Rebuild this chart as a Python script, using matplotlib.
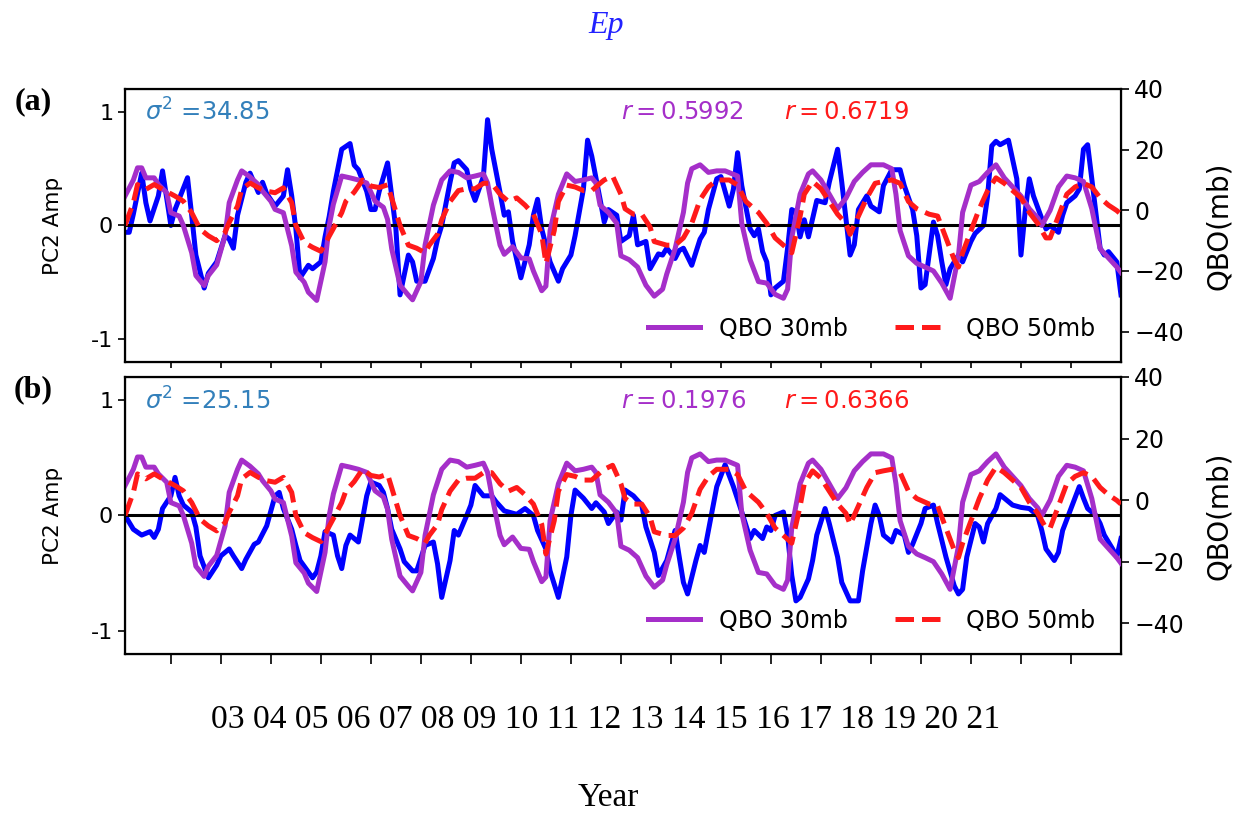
import matplotlib.pyplot as plt

# monthly index, 0 = Jan 2002
m_pc2a = [0, 1, 2, 4, 5, 6, 8, 9, 11, 12, 15, 16, 17, 19, 20, 22, 24, 25, 26, 27, 29, 30, 32, 33, 34, 36, 38, 39,
          40, 41, 42, 44, 45, 47, 48, 49, 50, 52, 54, 55, 56, 58, 59, 60, 61, 63, 64, 65, 66, 68, 69, 70, 72, 74,
          75, 76, 78, 79, 80, 82, 83, 84, 86, 87, 88, 90, 91, 92, 93, 95, 97, 98, 99, 100, 102, 104, 105, 107, 108,
          110, 111, 112, 114, 115, 116, 118, 119, 121, 122, 123, 125, 126, 128, 129, 130, 132, 133, 134, 136, 138,
          139, 140, 142, 143, 145, 146, 147, 148, 150, 151, 152, 153, 154, 155, 156, 158, 159, 160, 161, 162, 163,
          164, 166, 168, 169, 171, 172, 174, 175, 176, 178, 179, 181, 182, 184, 186, 187, 189, 190, 191, 192, 194,
          195, 196, 197, 198, 200, 201, 203, 204, 206, 207, 208, 209, 210, 212, 214, 215, 216, 217, 218, 220, 221,
          222, 224, 225, 226, 228, 229, 230, 231, 232, 234, 235, 236, 238, 239]
pc2_a = [-0.06, -0.06, 0.1, 0.46, 0.2, 0.04, 0.26, 0.48, 0.0, 0.14, 0.42, 0.09, -0.26, -0.55, -0.42, -0.32, -0.09,
         -0.12, -0.2, 0.09, 0.38, 0.46, 0.29, 0.38, 0.28, 0.17, 0.26, 0.49, 0.26, -0.03, -0.46, -0.35, -0.38, -0.32,
         -0.1, 0.08, 0.3, 0.67, 0.72, 0.53, 0.49, 0.3, 0.14, 0.14, 0.3, 0.55, 0.26, -0.03, -0.61, -0.26, -0.32,
         -0.49, -0.49, -0.29, -0.12, 0.0, 0.38, 0.55, 0.57, 0.49, 0.32, 0.22, 0.43, 0.93, 0.67, 0.29, 0.09, 0.12,
         -0.14, -0.46, -0.17, 0.09, 0.23, -0.03, -0.32, -0.49, -0.38, -0.26, -0.09, 0.32, 0.75, 0.61, 0.23, 0.03,
         0.14, 0.09, -0.14, -0.09, 0.09, -0.17, -0.14, -0.38, -0.25, -0.26, -0.2, -0.29, -0.22, -0.2, -0.35, -0.12,
         -0.06, 0.14, 0.41, 0.43, 0.17, 0.32, 0.64, 0.35, -0.03, -0.09, -0.03, -0.23, -0.32, -0.61, -0.55, -0.49,
         -0.2, 0.14, 0.12, -0.1, 0.05, -0.1, 0.22, 0.2, 0.38, 0.67, 0.38, -0.26, -0.17, 0.14, 0.26, 0.17, 0.12,
         0.35, 0.49, 0.49, 0.35, 0.14, -0.09, -0.55, -0.52, 0.03, -0.09, -0.32, -0.52, -0.38, -0.26, -0.32, -0.14,
         -0.07, 0.0, 0.26, 0.7, 0.74, 0.71, 0.75, 0.41, -0.26, 0.12, 0.41, 0.26, 0.06, -0.03, 0.0, -0.06, 0.09,
         0.2, 0.26, 0.32, 0.67, 0.71, 0.41, -0.2, -0.26, -0.23, -0.32, -0.61]

m_pc2b = [0, 2, 4, 6, 7, 8, 9, 11, 12, 13, 14, 16, 17, 18, 20, 22, 23, 25, 26, 28, 29, 31, 32, 34, 36, 37, 38, 40,
          41, 42, 44, 45, 46, 47, 48, 50, 51, 52, 53, 54, 55, 56, 57, 58, 59, 61, 62, 63, 64, 66, 67, 69, 70, 72,
          74, 75, 76, 78, 79, 80, 82, 83, 84, 86, 88, 89, 91, 92, 94, 96, 98, 99, 101, 102, 104, 106, 107, 108, 110,
          112, 113, 115, 116, 118, 119, 120, 122, 124, 125, 127, 128, 130, 132, 133, 134, 135, 137, 138, 139, 140,
          142, 144, 146, 148, 150, 151, 153, 154, 155, 156, 158, 159, 160, 161, 162, 164, 165, 166, 168, 169, 171,
          172, 174, 176, 177, 179, 180, 181, 182, 184, 185, 187, 188, 189, 191, 192, 194, 195, 197, 199, 200, 201,
          202, 204, 205, 206, 207, 209, 210, 212, 213, 215, 217, 219, 220, 221, 223, 224, 225, 227, 229, 230, 231,
          233, 234, 235, 237, 238, 239]
pc2_b = [0.0, -0.12, -0.17, -0.14, -0.19, -0.12, 0.06, 0.17, 0.33, 0.17, 0.09, 0.03, -0.1, -0.35, -0.54, -0.43,
         -0.35, -0.29, -0.35, -0.46, -0.38, -0.25, -0.23, -0.09, 0.17, 0.2, 0.06, -0.12, -0.26, -0.39, -0.49, -0.54,
         -0.49, -0.35, -0.14, -0.17, -0.35, -0.46, -0.26, -0.17, -0.2, -0.23, -0.03, 0.17, 0.29, 0.26, 0.2, 0.06,
         -0.12, -0.29, -0.4, -0.48, -0.48, -0.26, -0.23, -0.42, -0.71, -0.39, -0.13, -0.17, 0.0, 0.09, 0.26, 0.17,
         0.17, 0.12, 0.04, 0.03, 0.01, 0.06, 0.0, -0.13, -0.29, -0.48, -0.71, -0.36, 0.0, 0.22, 0.15, 0.06, 0.11,
         0.03, -0.07, 0.03, -0.04, 0.22, 0.17, 0.09, -0.1, -0.32, -0.52, -0.39, -0.13, -0.36, -0.58, -0.68, -0.39,
         -0.26, -0.32, -0.13, 0.25, 0.44, 0.25, 0.03, -0.2, -0.13, -0.2, -0.1, -0.13, 0.0, 0.03, -0.17, -0.52,
         -0.74, -0.71, -0.55, -0.39, -0.17, 0.06, -0.07, -0.36, -0.58, -0.74, -0.74, -0.48, -0.07, 0.09, 0.0,
         -0.17, -0.23, -0.13, -0.17, -0.32, -0.25, -0.07, 0.06, 0.09, -0.07, -0.36, -0.61, -0.68, -0.64, -0.36,
         -0.07, -0.1, -0.23, -0.07, 0.06, 0.18, 0.12, 0.09, 0.07, 0.06, 0.0, -0.13, -0.29, -0.39, -0.32, -0.13,
         0.06, 0.25, 0.15, 0.06, 0.0, -0.07, -0.17, -0.29, -0.36, -0.2]

m_q30 = [0, 2, 3, 4, 5, 7, 8, 10, 11, 13, 14, 16, 17, 19, 20, 22, 24, 25, 27, 28, 30, 32, 33, 35, 36, 38, 40, 41, 43,
         44, 46, 48, 49, 50, 52, 54, 56, 58, 60, 62, 63, 64, 66, 68, 69, 71, 72, 74, 76, 78, 80, 82, 84, 86, 87, 88,
         90, 91, 93, 95, 97, 98, 100, 101, 102, 104, 106, 108, 110, 112, 113, 114, 116, 118, 119, 121, 123, 125, 127,
         129, 130, 132, 134, 135, 136, 138, 140, 142, 144, 147, 148, 150, 152, 154, 156, 158, 159, 160, 162, 164,
         165, 167, 169, 171, 173, 175, 177, 179, 182, 184, 185, 186, 188, 190, 192, 194, 196, 198, 200, 201, 203,
         205, 207, 209, 211, 213, 215, 217, 219, 220, 222, 224, 226, 228, 230, 232, 234, 236, 238, 239]
qbo30 = [4.7, 10, 14, 14, 10.7, 10.7, 8.5, 5.8, -0.8, -1.9, -5, -14, -21.5, -24.8, -21.5, -18, -8.4, 2.5, 10, 13, 11,
         8.5, 6.3, 3, 0.3, -0.8, -11.7, -20.4, -23.7, -27, -29.7, -17, -5, 2, 11.3, 10.7, 10, 9, 3, 1, -3, -12.7,
         -24.7, -28, -29.5, -23.5, -11.5, 1.7, 10, 13, 12.5, 10.7, 11.3, 12, 9, 1.7, -11.5, -14.5, -12, -15.7, -16,
         -20, -26.5, -25, -6.7, 5.3, 12, 9.5, 10, 10.7, 9, 1.7, -0.7, -4.3, -15, -16.3, -18.7, -24.7, -28.3, -26,
         -21, -12.7, -0.7, 9, 13.7, 15, 12.5, 13, 13, 11.3, -4.3, -16.3, -23.5, -24, -27.7, -29, -26, -9, 5.3, 12,
         13, 10, 5.3, 0.5, 4, 9.5, 12.5, 15, 15, 13.7, 5.3, -6.7, -15, -17.5, -18.7, -20, -24, -29, -15, -0.7, 8.3,
         9.5, 12.5, 15, 10.7, 7.7, 4.7, 0.5, -2.5, -5, 0, 7.7, 11.3, 10.7, 9.5, 0.5, -12.7, -15.7, -18.7, -20.5]

m_q50 = [0, 2, 3, 5, 7, 9, 12, 14, 16, 18, 20, 22, 24, 25, 27, 28, 30, 32, 34, 36, 38, 40, 41, 43, 45, 47, 48, 50,
         52, 53, 55, 57, 59, 61, 63, 64, 66, 68, 70, 72, 73, 75, 76, 78, 80, 82, 84, 86, 88, 90, 92, 94, 96, 98,
         100, 101, 103, 104, 106, 108, 110, 112, 114, 115, 117, 119, 120, 122, 124, 126, 127, 130, 132, 134, 136,
         138, 140, 142, 145, 147, 149, 152, 154, 156, 158, 160, 162, 163, 165, 167, 169, 171, 173, 174, 176, 178,
         180, 182, 184, 186, 188, 190, 193, 195, 197, 199, 200, 201, 203, 205, 207, 209, 211, 213, 215, 217, 219,
         221, 222, 224, 226, 228, 230, 232, 234, 236, 238, 239]
qbo50 = [-5, 2.5, 8.5, 6.9, 8.5, 6.9, 4.7, 3, -0.8, -6.2, -8.4, -10, -7.3, -4, 1.4, 6.9, 9, 7.4, 6.3, 5.8, 7.4, 2.5,
         -5, -10.6, -12.2, -13.5, -11, -6, -0.8, 3, 6, 10, 8, 7.5, 8.4, 4, -5, -11.5, -12.5, -14, -11.5, -7.9, -3.1,
         2.9, 6.5, 7.1, 7.1, 8.9, 8.9, 5.3, 2.9, 4.1, 1.7, -1.3, -7.9, -17.5, -6.7, 2.9, 8.3, 7.7, 6.5, 6.5, 8.9, 10,
         11.3, 5.3, 0.5, -1.3, -1.3, -5.5, -10.3, -11.5, -11.5, -9.1, -4.3, 3.5, 7.7, 10, 10, 8.3, 2.9, -0.7, -4.3,
         -9.1, -11.5, -14, -2, 5.3, 9.5, 7.1, 2.9, -1.3, -4.3, -7.9, -1.9, 4.1, 8.9, 9.5, 10, 8.9, 2.9, 0.5, -1.3,
         -1.9, -9.1, -16.3, -18.7, -14, -6.7, 0.5, 6.5, 10.7, 8.9, 6.5, 4.1, -0.7, -4.3, -9.1, -9.1, -1.9, 5.3, 7.7,
         8.9, 7.7, 4.1, 1.7, -0.1, -1.3]

panels = ['(a)', '(b)']
variances = ['34.85', '25.15']
r30 = ['0.5992', '0.1976']
r50 = ['0.6719', '0.6366']
years = ['%02d' % y for y in range(3, 22)]

c_pc2 = '#0000ff'
c_30 = '#a52fc9'
c_50 = '#ff1a1a'
c_var = '#3380bb'

fig = plt.figure(figsize=(12.44, 8.14), dpi=100)
rects = [[0.1005, 0.5553, 0.8006, 0.3354], [0.1005, 0.1966, 0.8006, 0.3403]]
series = [(m_pc2a, pc2_a), (m_pc2b, pc2_b)]

for i in range(2):
    ax = fig.add_axes(rects[i])
    ax.plot(series[i][0], series[i][1], color=c_pc2, lw=3.6)
    ax.axhline(0, color='black', lw=2.2)
    ax.set_xlim(0, 239)
    ax.set_ylim(-1.2, 1.2)
    ax.set_yticks([-1, 0, 1])
    ax.set_yticklabels(['-1', '0', '1'])
    ax.set_xticks(range(11, 239, 12))
    ax.set_xticklabels([])
    ax.tick_params(axis='y', labelsize=16, length=5, width=1.2)
    ax.tick_params(axis='x', length=7 if i == 1 else 4, width=1.2)
    ax.set_ylabel('PC2 Amp', fontsize=15.5, labelpad=20)
    for s in ax.spines.values():
        s.set_linewidth(1.6)
    ax.text(0.02, 0.915, r'$\sigma^2$ =' + variances[i], transform=ax.transAxes,
            color=c_var, fontsize=17.5, va='center')
    ax.text(0.498, 0.915, r'$r = %s$' % r30[i], transform=ax.transAxes,
            color=c_30, fontsize=17.5, va='center')
    ax.text(0.662, 0.915, r'$r = %s$' % r50[i], transform=ax.transAxes,
            color=c_50, fontsize=17.5, va='center')

    ax2 = ax.twinx()
    ax2.plot(m_q30, qbo30, color=c_30, lw=3.6, label='QBO 30mb')
    ax2.plot(m_q50, qbo50, color=c_50, lw=3.6, ls='--', label='QBO 50mb')
    ax2.set_ylim(-50, 40)
    ax2.set_yticks([-40, -20, 0, 20, 40])
    ax2.tick_params(axis='y', labelsize=17, length=6, width=1.2)
    ax2.set_ylabel('QBO(mb)', fontsize=20, labelpad=15)
    ax2.legend(loc='lower right', bbox_to_anchor=(0.995, 0.0), ncol=2, frameon=False,
               fontsize=17, handlelength=2.2, handletextpad=0.8, columnspacing=2.0)

    fig.text(0.027, rects[i][1] + rects[i][3] - 0.016, panels[i], fontsize=23,
             fontweight='bold', family='Liberation Serif', ha='center', va='center')

fig.text(0.487, 0.969, 'Ep', fontsize=23, style='italic', family='Liberation Serif',
         color='#2222ff', ha='center', va='center')
fig.text(0.487, 0.1155, ' '.join(years), fontsize=24.2, family='Liberation Serif',
         ha='center', va='center')
fig.text(0.489, 0.02, 'Year', fontsize=24, family='Liberation Serif', ha='center', va='center')

fig.savefig('out.png', dpi=100)
